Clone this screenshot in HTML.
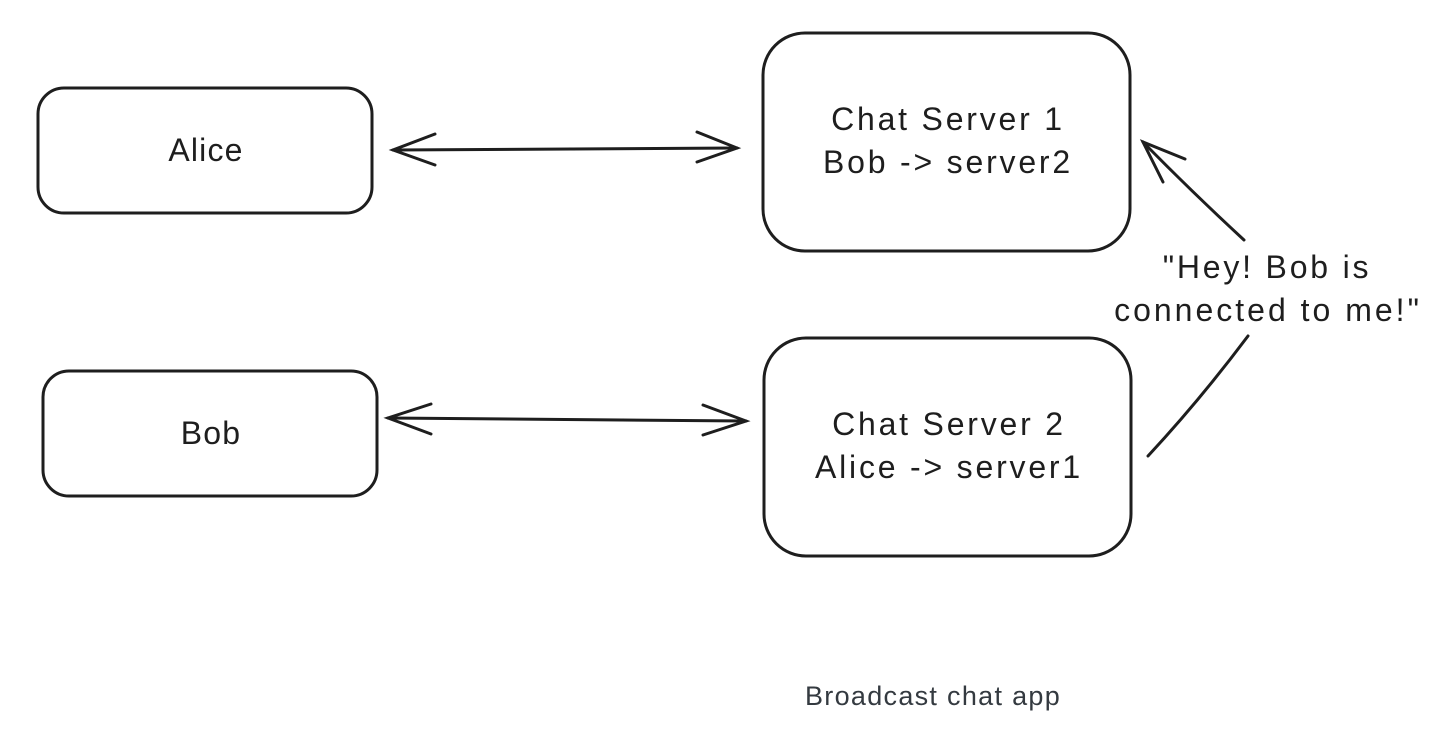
<!DOCTYPE html>
<html><head><style>
html,body{margin:0;padding:0;background:#fff;width:1446px;height:743px;overflow:hidden}
svg text{font-family:"Liberation Sans",sans-serif;fill:#1e1e1e}
</style></head><body>
<svg width="1446" height="743" viewBox="0 0 1446 743">
<g fill="none" stroke="#1e1e1e" stroke-width="3" stroke-linecap="round">
<rect x="38" y="88" width="334" height="125" rx="26"/>
<rect x="43" y="371" width="334" height="125" rx="26"/>
<rect x="763" y="33" width="367" height="218" rx="42"/>
<rect x="764" y="338" width="367" height="218" rx="42"/>
<path d="M393 150 L737 148"/>
<path d="M435 134 L393 150 L435 165"/>
<path d="M697 132 L737 148 L697 162"/>
<path d="M388 418 L746 421"/>
<path d="M431 404 L388 418 L431 434"/>
<path d="M703 405 L746 421 L703 435"/>
<path d="M1148 456 Q1200 400 1248 336"/>
<path d="M1244 240 Q1190 190 1143 142"/>
<path d="M1185 159 L1143 142 L1163 182"/>
</g>
<g font-size="32" text-anchor="middle">
<text x="206" y="161" letter-spacing="1.2">Alice</text>
<text x="211" y="444" letter-spacing="1.2">Bob</text>
<g letter-spacing="2.8">
<text x="948" y="130">Chat Server 1</text>
<text x="948" y="173">Bob -&gt; server2</text>
<text x="949" y="435">Chat Server 2</text>
<text x="949" y="478">Alice -&gt; server1</text>
<text x="1267" y="278">"Hey! Bob is</text>
<text x="1268" y="321" letter-spacing="3">connected to me!"</text>
</g>
</g>
<text x="933" y="705" font-size="27" letter-spacing="1.3" text-anchor="middle" style="fill:#343a40">Broadcast chat app</text>
</svg>
</body></html>
